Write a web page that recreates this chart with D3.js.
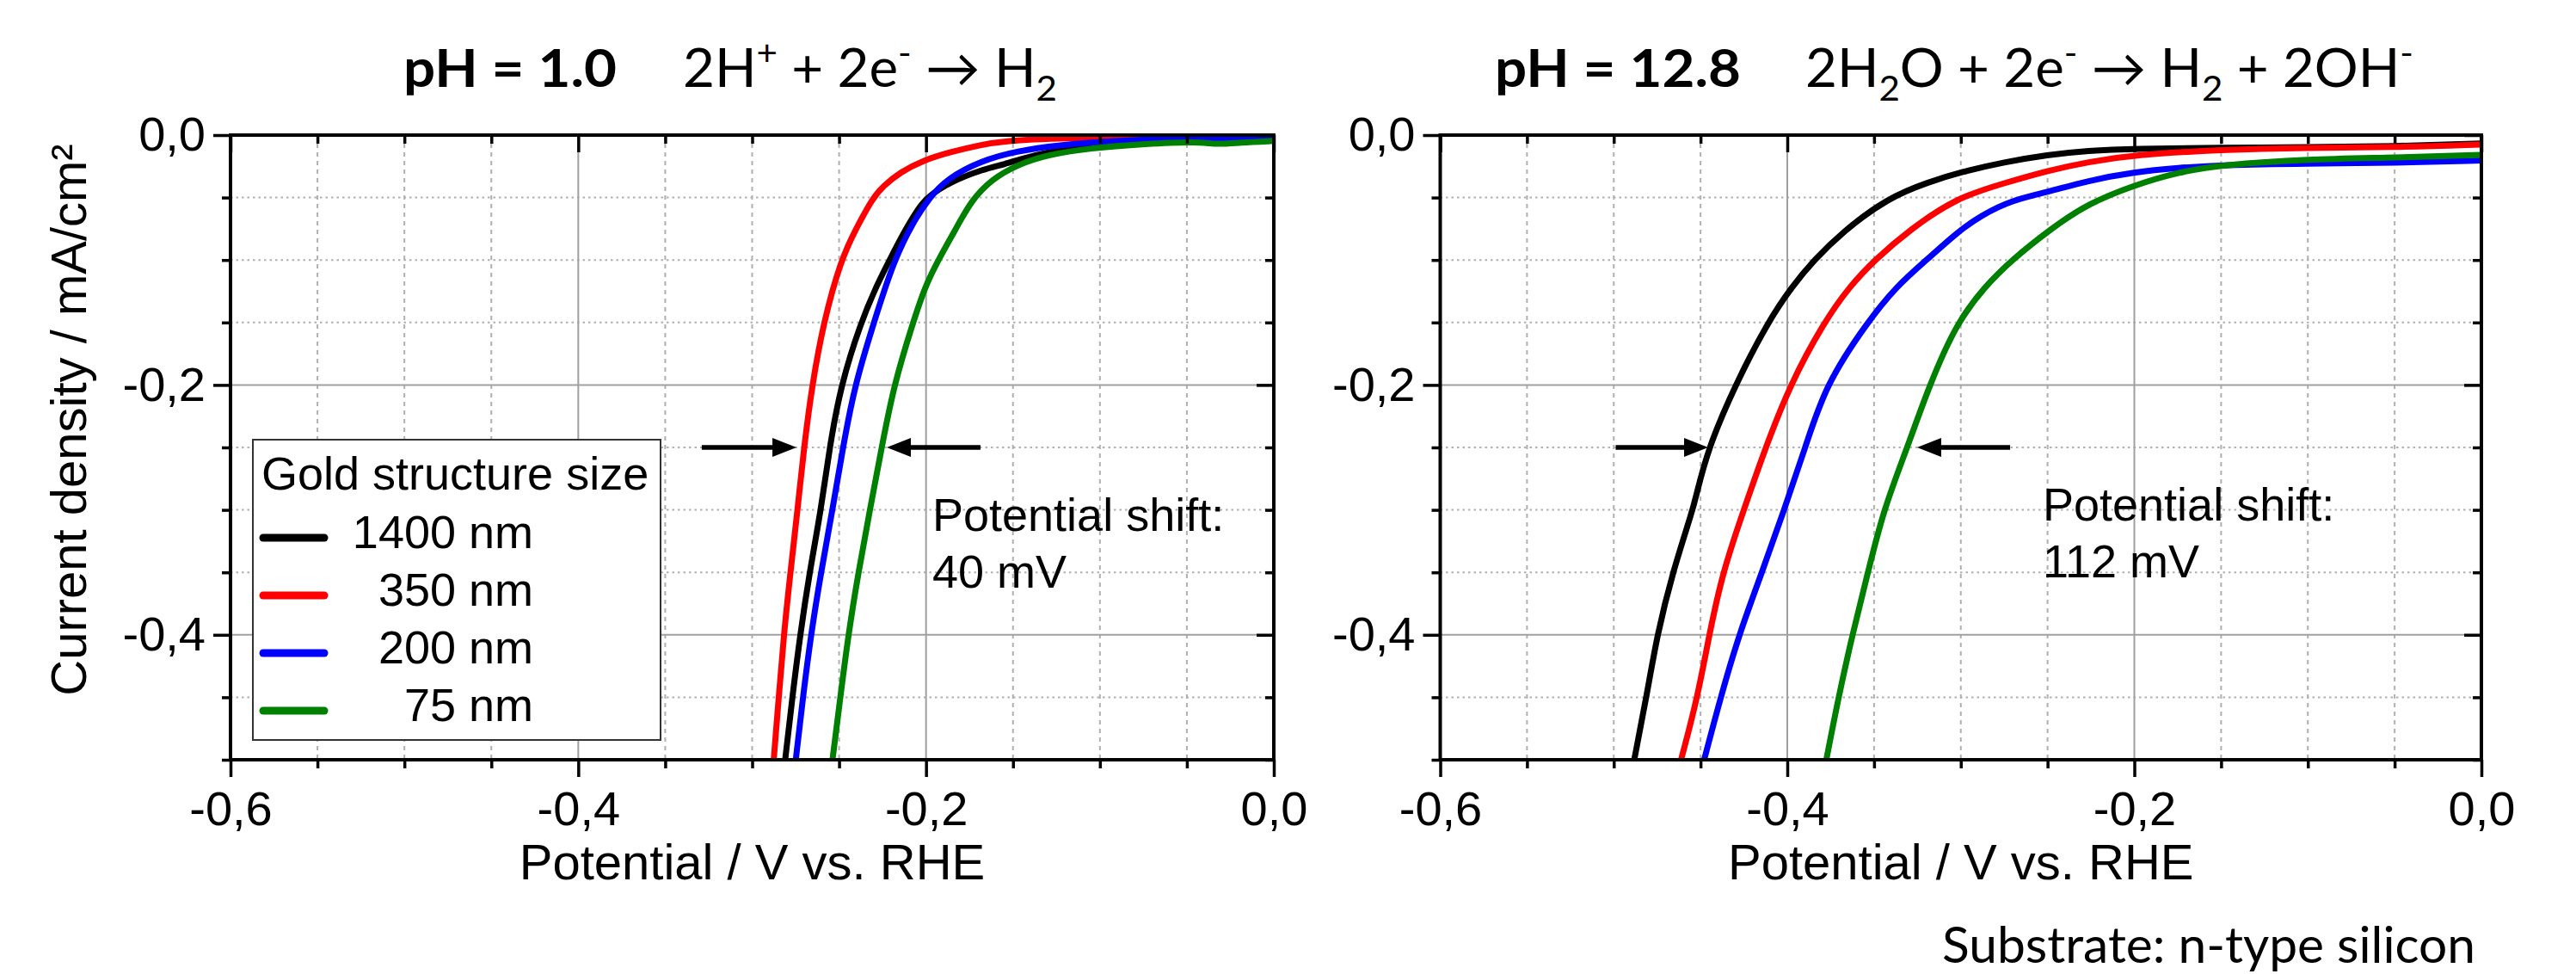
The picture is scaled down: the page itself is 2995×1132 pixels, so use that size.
<!DOCTYPE html>
<html>
<head>
<meta charset="utf-8">
<script src="https://cdn.jsdelivr.net/npm/d3@7"></script>
<style>
  html, body { margin: 0; padding: 0; background: #fff; }
  svg text { white-space: pre; }
</style>
</head>
<body>
<script>
// ---------------- DATA ----------------
// Potential (V vs. RHE), current density (mA/cm²)
const seriesNames = ["1400 nm", "350 nm", "200 nm", "75 nm"];

// pH = 1.0
const pH1_1400 = [[-0.2810,-0.500],[-0.2769,-0.450],[-0.2724,-0.400],[-0.2670,-0.350],[-0.2604,-0.300],[-0.2555,-0.250],[-0.2490,-0.200],[-0.2375,-0.150],[-0.2286,-0.121],[-0.2210,-0.100],[-0.2120,-0.076],[-0.2046,-0.059],[-0.1995,-0.050],[-0.1870,-0.038],[-0.1666,-0.027],[-0.1550,-0.0235],[-0.1420,-0.0175],[-0.1200,-0.0110],[-0.0960,-0.0065],[-0.0600,-0.0040],[0.0000,-0.0035]];
const pH1_350 = [[-0.2876,-0.500],[-0.2847,-0.450],[-0.2818,-0.400],[-0.2780,-0.350],[-0.2739,-0.300],[-0.2702,-0.250],[-0.2655,-0.200],[-0.2590,-0.150],[-0.2490,-0.100],[-0.2405,-0.0755],[-0.2305,-0.050],[-0.2248,-0.041],[-0.2147,-0.0296],[-0.2020,-0.0204],[-0.1860,-0.0135],[-0.1690,-0.0080],[-0.1550,-0.0046],[-0.1230,-0.0025],[-0.0600,-0.0013],[0.0000,-0.0010]];
const pH1_200 = [[-0.2749,-0.500],[-0.2708,-0.450],[-0.2662,-0.400],[-0.2604,-0.350],[-0.2538,-0.300],[-0.2478,-0.250],[-0.2410,-0.200],[-0.2300,-0.150],[-0.2185,-0.100],[-0.2070,-0.0686],[-0.1980,-0.050],[-0.1880,-0.035],[-0.1687,-0.0206],[-0.1475,-0.0126],[-0.1228,-0.0080],[-0.0980,-0.0051],[-0.0565,-0.0028],[0.0000,-0.0028]];
const pH1_75 = [[-0.2538,-0.500],[-0.2493,-0.450],[-0.2447,-0.400],[-0.2389,-0.350],[-0.2323,-0.300],[-0.2255,-0.250],[-0.2185,-0.200],[-0.2075,-0.150],[-0.2005,-0.121],[-0.1930,-0.100],[-0.1830,-0.0755],[-0.1740,-0.0523],[-0.1620,-0.0350],[-0.1470,-0.0235],[-0.1307,-0.0160],[-0.1060,-0.0104],[-0.0733,-0.0070],[-0.0450,-0.0052],[-0.0320,-0.0075],[-0.0200,-0.0060],[0.0000,-0.0047]];

// pH = 12.8
const pH13_1400 = [[-0.4882,-0.500],[-0.4812,-0.450],[-0.4750,-0.400],[-0.4661,-0.350],[-0.4545,-0.300],[-0.4528,-0.290],[-0.4455,-0.250],[-0.4300,-0.200],[-0.4114,-0.150],[-0.3972,-0.121],[-0.3845,-0.100],[-0.3687,-0.078],[-0.3418,-0.050],[-0.3185,-0.0376],[-0.3000,-0.0296],[-0.2749,-0.0216],[-0.2500,-0.0158],[-0.2270,-0.0124],[-0.2000,-0.0108],[-0.1500,-0.0101],[-0.1000,-0.0098],[-0.0500,-0.0090],[0.0000,-0.0067]];
const pH13_350 = [[-0.4612,-0.500],[-0.4517,-0.450],[-0.4450,-0.400],[-0.4373,-0.350],[-0.4251,-0.300],[-0.4125,-0.250],[-0.3985,-0.200],[-0.3790,-0.150],[-0.3640,-0.121],[-0.3497,-0.100],[-0.3292,-0.0755],[-0.3023,-0.050],[-0.2750,-0.0385],[-0.2500,-0.0285],[-0.2270,-0.0216],[-0.2000,-0.0158],[-0.1500,-0.0117],[-0.1000,-0.0101],[-0.0500,-0.0098],[0.0000,-0.0075]];
const pH13_200 = [[-0.4479,-0.500],[-0.4384,-0.450],[-0.4279,-0.400],[-0.4146,-0.350],[-0.4018,-0.300],[-0.3896,-0.250],[-0.3780,-0.200],[-0.3540,-0.150],[-0.3371,-0.121],[-0.3197,-0.100],[-0.3023,-0.078],[-0.2880,-0.064],[-0.2706,-0.0521],[-0.2500,-0.0457],[-0.2270,-0.0365],[-0.2000,-0.0296],[-0.1745,-0.0262],[-0.1500,-0.0239],[-0.1000,-0.0227],[-0.0500,-0.0223],[0.0000,-0.0204]];
const pH13_75 = [[-0.3775,-0.500],[-0.3705,-0.450],[-0.3625,-0.400],[-0.3535,-0.350],[-0.3446,-0.300],[-0.3308,-0.250],[-0.3181,-0.200],[-0.3023,-0.150],[-0.2860,-0.121],[-0.2707,-0.100],[-0.2486,-0.0755],[-0.2270,-0.0550],[-0.2000,-0.0400],[-0.1745,-0.0296],[-0.1500,-0.0239],[-0.1000,-0.0193],[-0.0500,-0.0181],[0.0000,-0.0158]];

// axes / ticks
const xDomain = [-0.6, 0.0];
const yDomain = [-0.5, 0.0];
const xMajor = [-0.6, -0.4, -0.2, 0.0];
const xMinor = [-0.55, -0.5, -0.45, -0.35, -0.3, -0.25, -0.15, -0.1, -0.05];
const yMajor = [0.0, -0.2, -0.4];
const yMinor = [-0.05, -0.1, -0.15, -0.25, -0.3, -0.35, -0.45, -0.5];

// annotations (data units)
const arrowsPH1 = [[[-0.329, -0.25], [-0.2745, -0.25]], [[-0.1687, -0.25], [-0.2226, -0.25]]];
const arrowsPH13 = [[[-0.4989, -0.25], [-0.4456, -0.25]], [[-0.2716, -0.25], [-0.3252, -0.25]]];
const shiftPH1 = ["Potential shift:", "40 mV"];
const shiftPH13 = ["Potential shift:", "112 mV"];

// ---------------- DRAW ----------------
const W = 2995, H = 1132;
const TOP = 157, BOTTOM = 883;
const colors = ["#000000", "#ff0000", "#0000ff", "#008000"];
const ARIAL = "'Liberation Sans', Arial, sans-serif";
const CALIBRI = "Lato, 'Open Sans', sans-serif";

const svg = d3.select("body").append("svg").attr("width", W).attr("height", H);
svg.append("rect").attr("width", W).attr("height", H).attr("fill", "#fff");

const fmt = v => (Math.abs(v) < 1e-9 ? 0 : v).toFixed(1).replace(".", ",");

function drawPanel(p, idx) {
  const x = d3.scaleLinear().domain(xDomain).range([p.left, p.right]);
  const y = d3.scaleLinear().domain(yDomain).range([BOTTOM, TOP]);
  const g = svg.append("g");

  // grid
  g.selectAll(null).data(xMinor).join("line")
    .attr("x1", d => x(d)).attr("x2", d => x(d)).attr("y1", TOP).attr("y2", BOTTOM)
    .attr("stroke", "#b0b0b0").attr("stroke-width", 2).attr("stroke-dasharray", "5,5");
  g.selectAll(null).data(yMinor.filter(d => d > -0.5)).join("line")
    .attr("y1", d => y(d)).attr("y2", d => y(d)).attr("x1", p.left).attr("x2", p.right)
    .attr("stroke", "#b0b0b0").attr("stroke-width", 2).attr("stroke-dasharray", "2.5,4");
  g.selectAll(null).data(xMajor.filter(d => d > -0.6 && d < 0)).join("line")
    .attr("x1", d => x(d)).attr("x2", d => x(d)).attr("y1", TOP).attr("y2", BOTTOM)
    .attr("stroke", "#a0a0a0").attr("stroke-width", 2);
  g.selectAll(null).data(yMajor.filter(d => d < 0)).join("line")
    .attr("y1", d => y(d)).attr("y2", d => y(d)).attr("x1", p.left).attr("x2", p.right)
    .attr("stroke", "#a0a0a0").attr("stroke-width", 2);

  // curves
  const clipId = "clip" + idx;
  svg.append("clipPath").attr("id", clipId).append("rect")
    .attr("x", p.left).attr("y", TOP).attr("width", p.right - p.left).attr("height", BOTTOM - TOP);
  const line = d3.line().x(d => x(d[0])).y(d => y(d[1])).curve(d3.curveBasis);
  g.append("g").attr("clip-path", `url(#${clipId})`)
    .selectAll("path").data(p.curves).join("path")
    .attr("d", d => line(d)).attr("fill", "none")
    .attr("stroke", (d, i) => colors[i]).attr("stroke-width", 7)
    .attr("stroke-linejoin", "round").attr("stroke-linecap", "round");

  // axes
  const styleAxis = sel => {
    sel.select(".domain").remove();
    sel.selectAll(".tick line").attr("stroke", "#000").attr("stroke-width", 3.5);
    sel.selectAll(".tick text").attr("fill", "#000");
    sel.attr("font-family", ARIAL).attr("font-size", 56);
  };
  g.append("g").attr("transform", `translate(0,${BOTTOM})`)
    .call(d3.axisBottom(x).tickValues(xMajor).tickSize(20).tickSizeOuter(0).tickPadding(16).tickFormat(fmt)).call(styleAxis);
  g.append("g").attr("transform", `translate(0,${BOTTOM})`)
    .call(d3.axisBottom(x).tickValues(xMinor).tickSize(10).tickSizeOuter(0).tickFormat("")).call(styleAxis);
  g.append("g").attr("transform", `translate(0,${TOP})`)
    .call(d3.axisTop(x).tickValues(xMajor).tickSize(-20).tickSizeOuter(0).tickFormat("")).call(styleAxis);
  g.append("g").attr("transform", `translate(0,${TOP})`)
    .call(d3.axisTop(x).tickValues(xMinor).tickSize(-10).tickSizeOuter(0).tickFormat("")).call(styleAxis);
  g.append("g").attr("transform", `translate(${p.left},0)`)
    .call(d3.axisLeft(y).tickValues(yMajor).tickSize(20).tickSizeOuter(0).tickPadding(9).tickFormat(fmt)).call(styleAxis);
  g.append("g").attr("transform", `translate(${p.left},0)`)
    .call(d3.axisLeft(y).tickValues(yMinor).tickSize(10).tickSizeOuter(0).tickFormat("")).call(styleAxis);
  g.append("g").attr("transform", `translate(${p.right},0)`)
    .call(d3.axisRight(y).tickValues(yMajor).tickSize(-20).tickSizeOuter(0).tickFormat("")).call(styleAxis);
  g.append("g").attr("transform", `translate(${p.right},0)`)
    .call(d3.axisRight(y).tickValues(yMinor).tickSize(-10).tickSizeOuter(0).tickFormat("")).call(styleAxis);

  // frame
  g.append("rect").attr("x", p.left).attr("y", TOP).attr("width", p.right - p.left).attr("height", BOTTOM - TOP)
    .attr("fill", "none").attr("stroke", "#000").attr("stroke-width", 4);

  // x title
  g.append("text").attr("x", (p.left + p.right) / 2).attr("y", 1022).attr("text-anchor", "middle")
    .attr("font-family", ARIAL).attr("font-size", 58).text("Potential / V vs. RHE");

  // arrows
  p.arrows.forEach(([a, b]) => {
    const x1 = x(a[0]), y1 = y(a[1]), x2 = x(b[0]), y2 = y(b[1]);
    const dir = Math.sign(x2 - x1), hl = 28, hw = 11;
    g.append("line").attr("x1", x1).attr("y1", y1).attr("x2", x2 - dir * hl * 0.8).attr("y2", y2)
      .attr("stroke", "#000").attr("stroke-width", 5.5);
    g.append("path").attr("d", `M${x2},${y2} L${x2 - dir * hl},${y2 - hw} L${x2 - dir * hl},${y2 + hw} Z`)
      .attr("fill", "#000");
  });

  // shift text
  g.append("text").attr("x", p.shiftPos[0]).attr("y", p.shiftPos[1])
    .attr("font-family", ARIAL).attr("font-size", 54).text(p.shift[0]);
  g.append("text").attr("x", p.shiftPos[0]).attr("y", p.shiftPos[1] + 66)
    .attr("font-family", ARIAL).attr("font-size", 54).text(p.shift[1]);

  // title
  g.append("text").attr("x", p.title.x).attr("y", 101).attr("font-family", CALIBRI).attr("font-weight", "bold")
    .attr("font-size", 62).attr("textLength", p.title.len).attr("lengthAdjust", "spacingAndGlyphs").text(p.title.bold);
  const eq = g.append("text").attr("x", p.title.ex).attr("y", 101).attr("font-family", CALIBRI)
    .attr("font-size", 62).attr("textLength", p.title.elen).attr("lengthAdjust", "spacingAndGlyphs");
  let cur = 0;
  p.title.eq.forEach(([t, kind]) => {
    const target = kind === "sup" ? -25 : kind === "sub" ? 16 : 0;
    eq.append("tspan").attr("dy", target - cur).attr("font-size", kind ? 41 : 62).text(t);
    cur = target;
  });
  return { x, y, g };
}

drawPanel({
  left: 268, right: 1481,
  curves: [pH1_1400, pH1_350, pH1_200, pH1_75],
  arrows: arrowsPH1, shift: shiftPH1, shiftPos: [1084, 617],
  title: { x: 469, len: 248, bold: "pH = 1.0", ex: 794, elen: 435,
           eq: [["2H"], ["+", "sup"], [" + 2e"], ["-", "sup"], [" \u2192 H"], ["2", "sub"]] }
}, 0);

drawPanel({
  left: 1674.5, right: 2885,
  curves: [pH13_1400, pH13_350, pH13_200, pH13_75],
  arrows: arrowsPH13, shift: shiftPH13, shiftPos: [2375, 605],
  title: { x: 1738, len: 286, bold: "pH = 12.8", ex: 2099, elen: 707,
           eq: [["2H"], ["2", "sub"], ["O + 2e"], ["-", "sup"], [" \u2192 H"], ["2", "sub"], [" + 2OH"], ["-", "sup"]] }
}, 1);

// y title
svg.append("text").attr("transform", "translate(100,488) rotate(-90)").attr("text-anchor", "middle")
  .attr("font-family", ARIAL).attr("font-size", 58).text("Current density / mA/cm\u00B2");

// legend
const lg = svg.append("g");
lg.append("rect").attr("x", 294).attr("y", 511).attr("width", 474).attr("height", 349)
  .attr("fill", "#fff").attr("stroke", "#333").attr("stroke-width", 2);
lg.append("text").attr("x", 304).attr("y", 569).attr("font-family", ARIAL).attr("font-size", 54)
  .text("Gold structure size");
seriesNames.forEach((name, i) => {
  const yy = 625 + i * 67;
  lg.append("line").attr("x1", 306).attr("x2", 377).attr("y1", yy).attr("y2", yy)
    .attr("stroke", colors[i]).attr("stroke-width", 9).attr("stroke-linecap", "round");
  lg.append("text").attr("x", 620).attr("y", yy + 12).attr("text-anchor", "end")
    .attr("font-family", ARIAL).attr("font-size", 54).text(name);
});

// substrate note
svg.append("text").attr("x", 2258).attr("y", 1119).attr("font-family", CALIBRI).attr("font-size", 58)
  .attr("textLength", 620).attr("lengthAdjust", "spacingAndGlyphs").text("Substrate: n-type silicon");
</script>
</body>
</html>
